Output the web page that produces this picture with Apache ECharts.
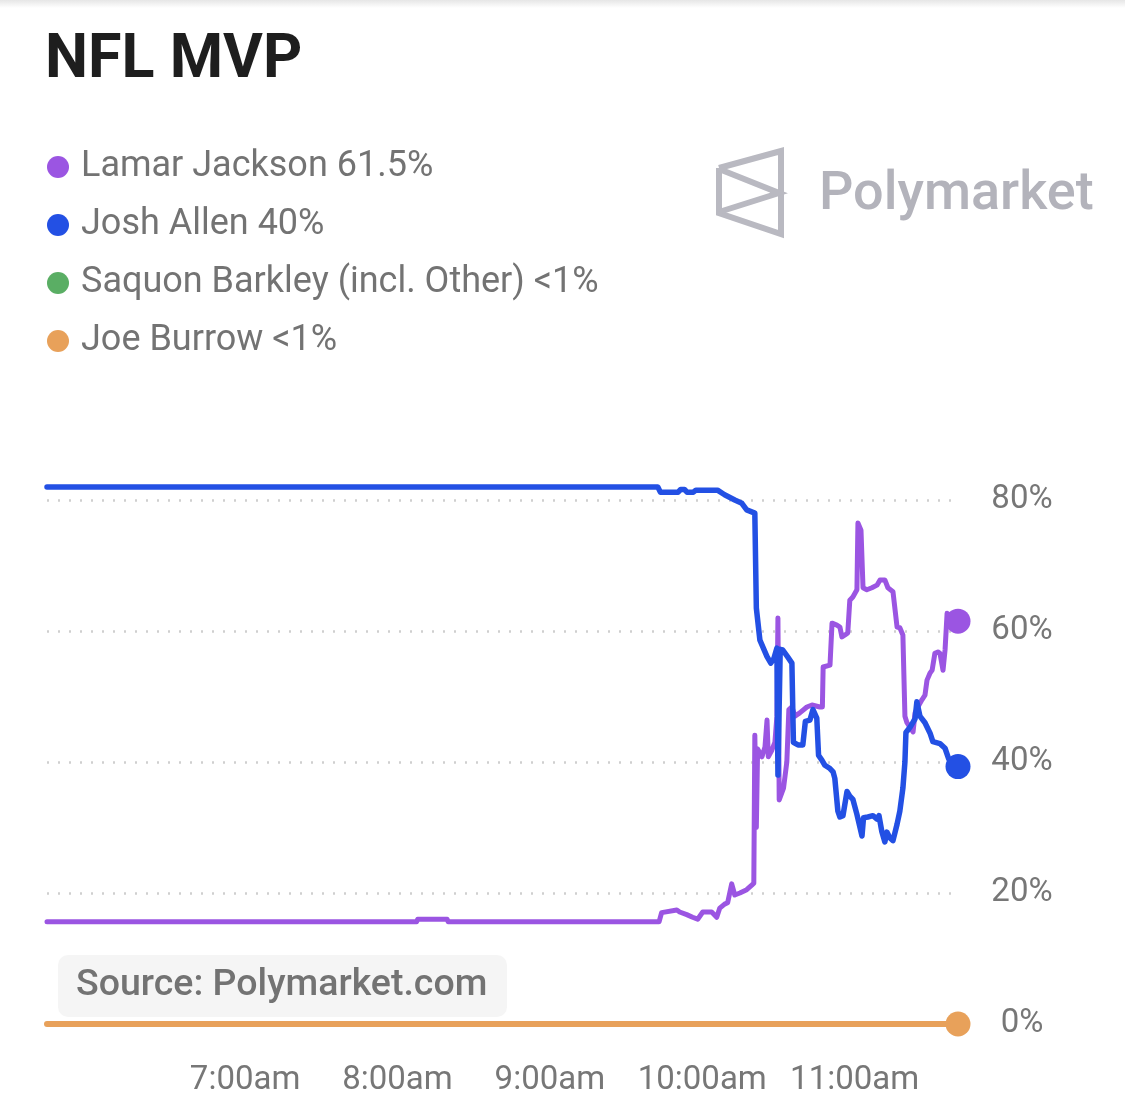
<!DOCTYPE html>
<html>
<head>
<meta charset="utf-8">
<script src="https://cdn.jsdelivr.net/npm/echarts@6/dist/echarts.min.js"></script>
<style>
  html, body { margin: 0; padding: 0; background: #fff; }
  #chart-container { width: 1125px; height: 1105px; }
</style>
</head>
<body>
<div id="chart-container"></div>
<script>
// time is minutes after midnight, values in percent
const tickValues = [420, 480, 540, 600, 660];
const tickLabels = ["7:00am", "8:00am", "9:00am", "10:00am", "11:00am"];

const names = ["Lamar Jackson", "Josh Allen", "Saquon Barkley (incl. Other)", "Joe Burrow"];
const legendValues = ["61.5%", "40%", "<1%", "<1%"];
const colors = ["#9b55e2", "#2350e4", "#5aae64", "#e8a15a"];

const lamarT = [342, 487.5, 488, 499.5, 500, 583, 584, 590, 591.1, 593.9, 596.2, 598.2, 600.2, 603.7, 605.7, 606.9, 608.8, 610, 611.6, 612.8, 614.8, 617.5, 619.5, 620.3, 620.7, 621.3, 621.8, 623.5, 624.7, 625.5, 626, 627.4, 628.6, 629.4, 629.8, 630.3, 631, 632, 633.3, 634.1, 635.3, 636.5, 638.4, 641.2, 643.2, 646.3, 647.3, 647.6, 650.3, 651.1, 653, 654.2, 655, 656.2, 657.3, 658.1, 659.3, 660.9, 661.3, 662.5, 663.3, 664.8, 666.8, 668.8, 670, 671.9, 673.1, 675.1, 676.7, 677.8, 679, 679.8, 680.6, 681.8, 683, 683.8, 684.9, 686.5, 687.7, 688.5, 689.7, 690.5, 691.6, 692.8, 693.6, 694.8, 695.6, 696.4, 697.5, 700.7];
const lamarV = [15.6, 15.6, 16.0, 16.0, 15.6, 15.6, 17.0, 17.4, 17.1, 16.7, 16.3, 16.0, 17.1, 17.1, 16.3, 17.7, 18.3, 18.5, 21.4, 19.7, 20.0, 20.5, 21.2, 21.5, 44.1, 30.0, 42.0, 40.8, 42.3, 46.4, 40.8, 41.8, 43.0, 47.0, 62.0, 34.2, 34.0, 36.0, 40.0, 48.0, 48.4, 47.0, 47.5, 48.4, 48.7, 48.4, 48.4, 54.5, 54.8, 61.2, 60.9, 60.6, 59.1, 59.4, 59.7, 64.7, 65.2, 66.3, 76.5, 75.4, 66.6, 66.3, 66.6, 67.0, 67.8, 67.8, 66.6, 66.0, 60.6, 60.5, 59.4, 47.0, 46.0, 45.3, 44.6, 47.5, 48.4, 49.5, 50.2, 52.5, 53.6, 54.0, 56.6, 56.8, 56.6, 54.0, 57.1, 62.7, 62.4, 61.5];

const allenT = [342, 582.5, 583.5, 590.5, 591.5, 593, 594, 596.5, 597.5, 606, 608.8, 612.8, 615.6, 617.5, 620.7, 621.3, 622.7, 625.5, 627, 628.2, 629.4, 629.8, 630.7, 631.7, 633.7, 635.3, 635.9, 637.7, 639.6, 640.6, 642.4, 643.6, 645.1, 645.8, 647.1, 648.3, 650.3, 651.5, 652.2, 653.4, 654.2, 655.4, 657, 658.1, 659.3, 660.9, 662.1, 662.9, 663.5, 665.2, 667.2, 668.8, 669.6, 670.7, 671.9, 672.7, 673.9, 675.1, 676.7, 677.8, 679, 679.8, 680.2, 681.8, 683.8, 684.5, 685.7, 687.7, 689.7, 690.8, 693.6, 695.6, 697, 698.5, 700.7];
const allenV = [82.0, 82.0, 81.2, 81.2, 81.6, 81.6, 81.2, 81.2, 81.5, 81.5, 80.8, 80.0, 79.5, 78.5, 78.0, 63.5, 58.6, 56.1, 55.1, 55.8, 57.4, 38.0, 57.2, 57.1, 56.0, 55.1, 43.0, 42.6, 42.6, 46.2, 46.4, 48.0, 46.7, 41.0, 40.3, 39.5, 39.0, 38.5, 37.5, 32.5, 31.6, 31.8, 35.5, 34.8, 34.3, 32.0, 30.0, 28.7, 31.5, 31.6, 31.8, 31.3, 31.8, 29.4, 27.8, 29.3, 28.4, 28.0, 30.5, 32.5, 36.0, 40.0, 44.5, 45.3, 46.6, 49.2, 47.0, 46.0, 44.4, 43.1, 42.8, 42.1, 40.5, 39.6, 39.3];

const barkleyT = [342, 700.7];
const barkleyV = [0.05, 0.05];

const burrowT = [342, 700.7];
const burrowV = [0, 0];

var dom = document.getElementById("chart-container");
var myChart = echarts.init(dom, null, { renderer: "canvas" });

const FONT = "Roboto";

// pair times with values, put a big dot on the last point
function buildData(ts, vs, dot) {
  return ts.map(function (t, i) {
    if (dot && i === ts.length - 1) {
      return { value: [t, vs[i]], symbol: "circle", symbolSize: 25 };
    }
    return [t, vs[i]];
  });
}

function lineSeries(idx, ts, vs, width, dot) {
  return {
    name: names[idx],
    type: "line",
    data: buildData(ts, vs, dot),
    symbol: "none",
    clip: false,
    color: colors[idx],
    lineStyle: { width: width, color: colors[idx], join: "round", cap: "round" },
    itemStyle: { color: colors[idx] },
    emphasis: { disabled: true },
  };
}

var option = {
  animation: false,
  backgroundColor: "#ffffff",
  title: {
    text: "NFL MVP",
    left: 45,
    top: 31,
    padding: 0,
    textStyle: {
      fontFamily: FONT,
      fontSize: 61,
      fontWeight: "bold",
      color: "#1e1e1e",
    },
  },
  legend: {
    orient: "vertical",
    left: 47,
    top: 149,
    padding: 0,
    itemWidth: 22,
    itemHeight: 22,
    itemGap: 22,
    icon: "circle",
    selectedMode: false,
    data: names,
    formatter: function (name) {
      return name + " " + legendValues[names.indexOf(name)];
    },
    textStyle: {
      fontFamily: FONT,
      fontSize: 36,
      color: "#737373",
      padding: [0, 0, 0, 7],
    },
  },
  grid: {
    left: 47,
    right: 167,
    top: 500,
    bottom: 81,
  },
  xAxis: {
    type: "value",
    min: 342,
    max: 700.7,
    axisLine: { show: false },
    axisTick: { show: false },
    splitLine: { show: false },
    axisLabel: {
      customValues: tickValues,
      margin: 40,
      fontFamily: FONT,
      fontSize: 33,
      color: "#777777",
      formatter: function (v) {
        return tickLabels[tickValues.indexOf(v)];
      },
    },
  },
  yAxis: {
    type: "value",
    position: "right",
    min: 0,
    max: 80,
    interval: 20,
    axisLine: { show: false },
    axisTick: { show: false },
    axisLabel: {
      formatter: "{value}%",
      align: "center",
      margin: 64,
      fontFamily: FONT,
      fontSize: 33,
      color: "#777777",
    },
    splitLine: {
      show: true,
      lineStyle: { color: "#cfcfcf", width: 2.5, type: [2, 9] },
    },
  },
  series: [
    lineSeries(0, lamarT, lamarV, 5, true),
    lineSeries(1, allenT, allenV, 5.5, true),
    lineSeries(2, barkleyT, barkleyV, 4, false),
    lineSeries(3, burrowT, burrowV, 6, true),
  ],
  graphic: [
    {
      type: "rect",
      left: 0,
      top: 0,
      shape: { width: 1125, height: 8 },
      style: {
        fill: new echarts.graphic.LinearGradient(0, 0, 0, 1, [
          { offset: 0, color: "#e6e6e6" },
          { offset: 1, color: "#ffffff" },
        ]),
      },
      silent: true,
    },
    // Polymarket mark
    {
      type: "polyline",
      shape: { points: [[719, 168], [781, 151], [781, 234], [719, 213], [719, 168]] },
      style: { stroke: "#b9b9c1", lineWidth: 6, fill: null, lineJoin: "miter" },
      silent: true,
    },
    {
      type: "polyline",
      shape: { points: [[719, 169], [779, 193], [719, 212]] },
      style: { stroke: "#b9b9c1", lineWidth: 6, fill: null },
      silent: true,
    },
    {
      type: "text",
      x: 819,
      y: 195,
      style: {
        text: "Polymarket",
        fontFamily: FONT,
        fontSize: 54,
        fontWeight: 500,
        fill: "#b3b3bb",
        verticalAlign: "middle",
        textAlign: "left",
      },
      silent: true,
    },
    // source badge
    {
      type: "rect",
      shape: { x: 58, y: 955, width: 449, height: 62, r: 10 },
      style: { fill: "#f5f5f5" },
      z: 10,
      silent: true,
    },
    {
      type: "text",
      x: 76,
      y: 986,
      z: 11,
      style: {
        text: "Source: Polymarket.com",
        fontFamily: FONT,
        fontSize: 37.5,
        fontWeight: 500,
        fill: "#737373",
        verticalAlign: "middle",
        textAlign: "left",
      },
      silent: true,
    },
  ],
};

if (option && typeof option === "object") {
  myChart.setOption(option);
}

window.addEventListener("resize", myChart.resize);
</script>
</body>
</html>
